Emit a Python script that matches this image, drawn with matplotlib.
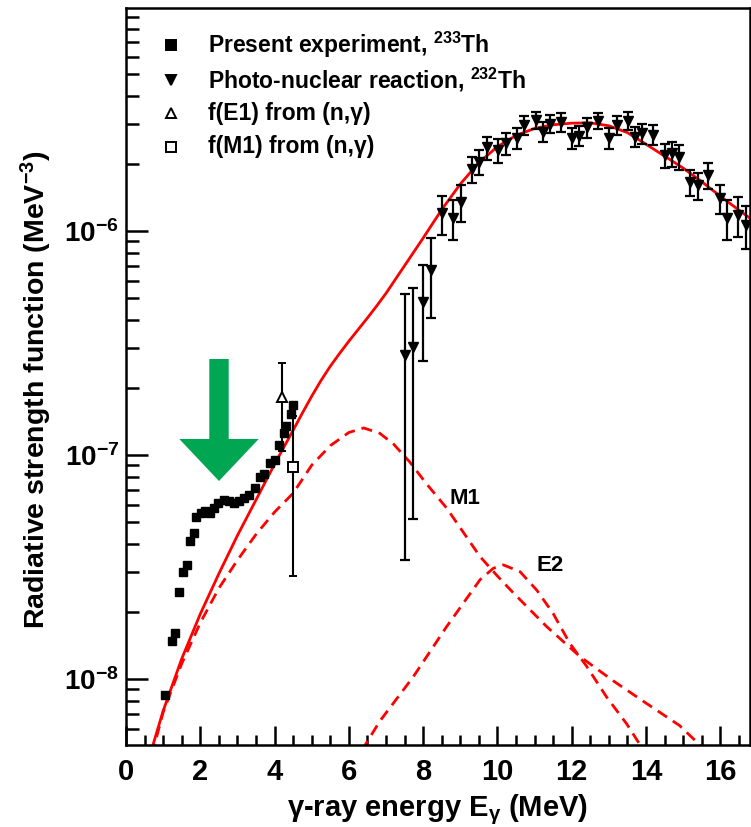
import numpy as np
import matplotlib
matplotlib.use('Agg')
import matplotlib.pyplot as plt
from matplotlib.patches import Polygon
from matplotlib.ticker import MultipleLocator, LogLocator, NullFormatter, LogFormatterSciNotation

plt.rcParams['font.family'] = ['Liberation Sans', 'DejaVu Sans']
plt.rcParams['font.weight'] = 'bold'
plt.rcParams['axes.labelweight'] = 'bold'
plt.rcParams['mathtext.default'] = 'regular'

# present experiment, 233Th (MeV, MeV^-3)
exp_e = [1.06, 1.25, 1.33, 1.42, 1.53, 1.63, 1.72, 1.83, 1.89, 2.01,
         2.12, 2.25, 2.37, 2.49, 2.63, 2.76, 2.90, 3.03, 3.18, 3.31,
         3.46, 3.60, 3.71, 3.89, 4.02, 4.11, 4.25, 4.32, 4.45, 4.50]
exp_f = [8.5e-9, 1.47e-8, 1.60e-8, 2.45e-8, 2.99e-8, 3.23e-8, 4.13e-8, 4.47e-8, 5.3e-8, 5.5e-8,
         5.6e-8, 5.5e-8, 5.8e-8, 6.1e-8, 6.3e-8, 6.2e-8, 6.1e-8, 6.2e-8, 6.4e-8, 6.6e-8,
         7.1e-8, 8.0e-8, 8.2e-8, 9.2e-8, 9.5e-8, 1.11e-7, 1.25e-7, 1.34e-7, 1.53e-7, 1.67e-7]

# photo-nuclear reaction, 232Th
pn_e = [7.51, 7.73, 8.00, 8.21, 8.50, 8.81, 9.01, 9.32, 9.51, 9.71,
        10.01, 10.22, 10.52, 10.71, 11.03, 11.22, 11.42, 11.71, 12.02, 12.20,
        12.40, 12.70, 13.01, 13.21, 13.51, 13.71, 13.90, 14.20, 14.50, 14.70,
        14.89, 15.19, 15.40, 15.68, 16.00, 16.19, 16.49, 16.69]
pn_f = [0.279e-6, 0.304e-6, 0.483e-6, 0.670e-6, 1.20e-6, 1.14e-6, 1.35e-6, 1.89e-6, 2.04e-6, 2.36e-6,
        2.30e-6, 2.46e-6, 2.60e-6, 2.97e-6, 3.13e-6, 2.78e-6, 3.01e-6, 3.08e-6, 2.60e-6, 2.66e-6,
        2.90e-6, 3.11e-6, 2.60e-6, 2.97e-6, 3.11e-6, 2.64e-6, 2.73e-6, 2.69e-6, 2.18e-6, 2.22e-6,
        2.15e-6, 1.66e-6, 1.60e-6, 1.78e-6, 1.40e-6, 1.14e-6, 1.18e-6, 1.06e-6]
pn_err = [0.245e-6, 0.252e-6, 0.22e-6, 0.26e-6, 0.24e-6, 0.23e-6, 0.25e-6, 0.26e-6, 0.27e-6, 0.28e-6,
          0.28e-6, 0.28e-6, 0.27e-6, 0.30e-6, 0.28e-6, 0.28e-6, 0.28e-6, 0.30e-6, 0.28e-6, 0.27e-6,
          0.29e-6, 0.27e-6, 0.28e-6, 0.29e-6, 0.29e-6, 0.28e-6, 0.28e-6, 0.28e-6, 0.27e-6, 0.28e-6,
          0.27e-6, 0.22e-6, 0.22e-6, 0.24e-6, 0.21e-6, 0.23e-6, 0.24e-6, 0.23e-6]

# (n,gamma) points
e1_e, e1_f, e1_err = [4.21], [1.81e-7], [0.77e-7]
m1_e, m1_f, m1_err = [4.49], [8.87e-8], [6.0e-8]

# total model strength
tot_e = [0.65, 1.0, 1.5, 2.0, 2.5, 3.0, 3.5, 4.0, 4.5, 4.75, 5.0, 5.25, 5.5, 5.75, 6.0,
         6.25, 6.5, 6.75, 7.0, 7.5, 8.0, 8.5, 9.0, 9.5, 10.0, 10.5, 11.0, 11.5, 12.0,
         12.5, 13.0, 13.5, 14.0, 14.5, 15.0, 15.5, 16.0, 16.5, 16.9]
tot_f = [4.6e-9, 7.2e-9, 1.23e-8, 1.95e-8, 2.95e-8, 4.37e-8, 6.3e-8, 9.1e-8, 1.29e-7, 1.54e-7,
         1.83e-7, 2.15e-7, 2.49e-7, 2.84e-7, 3.22e-7, 3.63e-7, 4.09e-7, 4.63e-7, 5.27e-7, 7.0e-7,
         9.3e-7, 1.245e-6, 1.62e-6, 2.02e-6, 2.38e-6, 2.67e-6, 2.87e-6, 2.98e-6, 3.03e-6,
         3.04e-6, 2.95e-6, 2.75e-6, 2.44e-6, 2.16e-6, 1.91e-6, 1.66e-6, 1.43e-6, 1.24e-6, 1.11e-6]

# M1 component
m1c_e = [0.70, 1.0, 1.5, 2.0, 2.5, 3.0, 3.5, 4.0, 4.5, 5.0, 5.5, 6.0, 6.4, 6.83, 7.2, 7.64,
         8.1, 8.63, 9.1, 9.53, 10.0, 10.43, 11.33, 12.22, 13.12, 14.0, 14.9, 15.6]
m1c_f = [4.6e-9, 7.1e-9, 1.17e-8, 1.78e-8, 2.54e-8, 3.39e-8, 4.42e-8, 5.56e-8, 6.75e-8, 9.0e-8,
         1.10e-7, 1.26e-7, 1.32e-7, 1.25e-7, 1.12e-7, 9.3e-8, 7.4e-8, 5.8e-8, 4.47e-8, 3.52e-8,
         2.88e-8, 2.42e-8, 1.71e-8, 1.26e-8, 9.8e-9, 7.8e-9, 6.2e-9, 4.8e-9]

# E2 component
e2c_e = [6.35, 6.84, 7.73, 8.63, 9.53, 9.89, 10.16, 10.61, 11.06, 11.50, 11.95, 12.40,
         12.94, 13.48, 13.90]
e2c_f = [4.8e-9, 6.5e-9, 1.02e-8, 1.71e-8, 2.77e-8, 3.12e-8, 3.23e-8, 3.01e-8, 2.49e-8, 1.96e-8,
         1.44e-8, 1.14e-8, 8.3e-9, 6.3e-9, 4.9e-9]

fig = plt.figure(figsize=(7.51, 8.27), dpi=100)
ax = fig.add_axes([126 / 751, 82 / 827, 624 / 751, 737 / 827])

red = '#ff0000'
ax.plot(tot_e, tot_f, color=red, lw=2.0, zorder=2)
ax.plot(m1c_e, m1c_f, color=red, lw=2.0, dashes=(4, 2.5), zorder=2)
ax.plot(e2c_e, e2c_f, color=red, lw=2.0, dashes=(4, 2.5), zorder=2)

ax.errorbar(pn_e, pn_f, yerr=pn_err, fmt='v', color='k', ms=7, capsize=3.5,
            elinewidth=1.6, capthick=1.6, zorder=3)
ax.errorbar(e1_e, e1_f, yerr=e1_err, fmt='^', color='k', mfc='white', mec='k', mew=1.4,
            ms=6.5, capsize=3, elinewidth=1.5, capthick=1.5, zorder=4)
ax.errorbar(m1_e, m1_f, yerr=m1_err, fmt='s', color='k', mfc='white', mec='k', mew=1.4,
            ms=6.5, capsize=3, elinewidth=1.5, capthick=1.5, zorder=4)
ax.plot(exp_e, exp_f, 's', color='k', ms=6, zorder=5)

ax.text(9.12, 6.4e-8, 'M1', fontsize=16, fontweight='bold', ha='center', va='center')
ax.text(11.43, 3.2e-8, 'E2', fontsize=16, fontweight='bold', ha='center', va='center')

# legend
entries = [('s', 'k', 'Present experiment, $^{233}$Th'),
           ('v', 'k', 'Photo-nuclear reaction, $^{232}$Th'),
           ('^', 'white', 'f(E1) from (n,γ)'),
           ('s', 'white', 'f(M1) from (n,γ)')]
rows = [0.9498, 0.9023, 0.8575, 0.8114]
for (mk, fc, label), yy in zip(entries, rows):
    ax.plot([0.0721], [yy], mk, mfc=fc, mec='k', mew=1.4, ms=6.5,
            transform=ax.transAxes, clip_on=False)
    ax.text(0.1314, yy, label, fontsize=16.5, fontweight='bold', ha='left', va='center',
            transform=ax.transAxes)

ax.set_yscale('log')
ax.set_xlim(0, 16.8)
ax.set_ylim(5.07e-9, 9.9e-6)
ax.xaxis.set_major_locator(MultipleLocator(2))
ax.xaxis.set_minor_locator(MultipleLocator(0.5))
ax.yaxis.set_major_locator(LogLocator(base=10, numticks=10))
ax.yaxis.set_minor_locator(LogLocator(base=10, subs=np.arange(2, 10), numticks=20))
ax.yaxis.set_minor_formatter(NullFormatter())
ax.yaxis.set_major_formatter(LogFormatterSciNotation())

ax.tick_params(axis='both', which='both', direction='in', top=False, right=False, width=1.8)
ax.tick_params(axis='x', which='major', length=14, pad=9, labelsize=21)
ax.tick_params(axis='x', which='minor', length=7)
ax.tick_params(axis='y', which='major', length=16, pad=5, labelsize=20)
ax.tick_params(axis='y', which='minor', length=9)
for sp in ax.spines.values():
    sp.set_linewidth(1.8)

ax.set_xlabel('γ-ray energy E$_{γ}$ (MeV)', fontsize=21, fontweight='bold', labelpad=5)
ax.set_ylabel('Radiative strength function (MeV$^{-3}$)', fontsize=20.5, fontweight='bold')
ax.yaxis.set_label_coords(-0.116, 0.482)

fig.canvas.draw()
for lbl in ax.get_xticklabels() + ax.get_yticklabels():
    lbl.set_fontweight('bold')

# green arrow
arrow_px = [(209.3, 359), (228.7, 359), (228.7, 439), (258.7, 439), (219, 481),
            (179.3, 439), (209.3, 439)]
arrow = Polygon([(x / 751, 1 - y / 827) for x, y in arrow_px], closed=True,
                facecolor='#00a651', edgecolor='none', transform=fig.transFigure, zorder=6)
fig.patches.append(arrow)

fig.savefig('out.png', dpi=100)
